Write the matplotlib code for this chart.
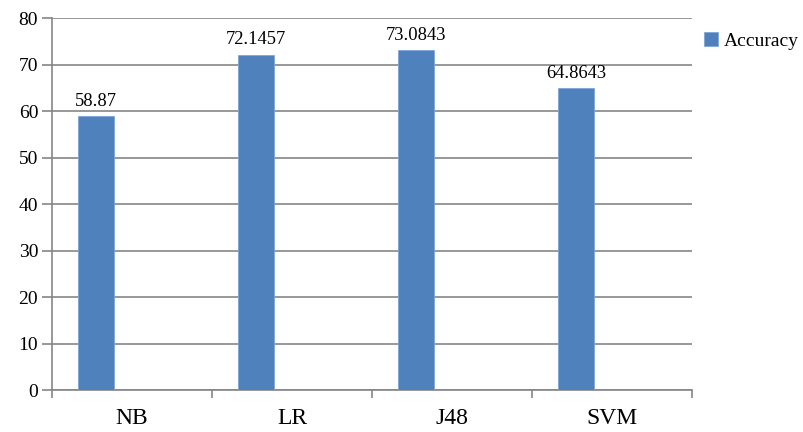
import matplotlib
matplotlib.use("Agg")
import matplotlib.pyplot as plt
from matplotlib.ticker import FixedLocator, NullFormatter

categories = ["NB", "LR", "J48", "SVM"]
accuracy = [58.87, 72.1457, 73.0843, 64.8643]
value_labels = ["58.87", "72.1457", "73.0843", "64.8643"]
y_ticks = [0, 10, 20, 30, 40, 50, 60, 70, 80]

plt.rcParams["font.family"] = ["Liberation Serif", "DejaVu Serif"]

fig = plt.figure(figsize=(8.04, 4.32), dpi=100)
ax = fig.add_axes([0.0647, 0.0972, 0.796, 0.861])

grey = "#868686"
bar_color = "#4F81BD"

positions = [i + 0.275 for i in range(len(categories))]
bars = ax.bar(positions, accuracy, width=0.225, color=bar_color,
              edgecolor="#7FA6D6", linewidth=0.6, label="Accuracy", zorder=3)

for b, txt in zip(bars, value_labels):
    ax.annotate(txt, (b.get_x() + b.get_width() / 2, b.get_height()),
                xytext=(0, 4.5), textcoords="offset points",
                ha="center", va="bottom", fontsize=13.3)

ax.set_xlim(0, len(categories))
ax.set_ylim(0, 80)
ax.set_yticks(y_ticks)
ax.yaxis.grid(True, color=grey, linewidth=1.2, zorder=0)
ax.set_axisbelow(True)

# category boundaries carry the tick marks, labels sit at centres
ax.xaxis.set_major_locator(FixedLocator(range(len(categories) + 1)))
ax.xaxis.set_major_formatter(NullFormatter())
ax.xaxis.set_minor_locator(FixedLocator([i + 0.5 for i in range(len(categories))]))
ax.set_xticklabels(categories, minor=True, fontsize=17)
ax.tick_params(axis="x", which="minor", length=0, pad=13)
ax.tick_params(axis="x", which="major", length=6, color=grey, width=1.2, direction="out")
ax.tick_params(axis="y", length=7, color=grey, width=1.2, labelsize=14, pad=3)

for side in ["top", "right"]:
    ax.spines[side].set_visible(False)
for side in ["left", "bottom"]:
    ax.spines[side].set_color(grey)
    ax.spines[side].set_linewidth(1.2)

fig.legend(handles=[bars], labels=["Accuracy"], loc="upper left",
           bbox_to_anchor=(0.866, 0.943), frameon=False, fontsize=14,
           handlelength=0.7, handleheight=0.7, handletextpad=0.3,
           borderaxespad=0, borderpad=0.4)

fig.savefig("out.png", dpi=100)
